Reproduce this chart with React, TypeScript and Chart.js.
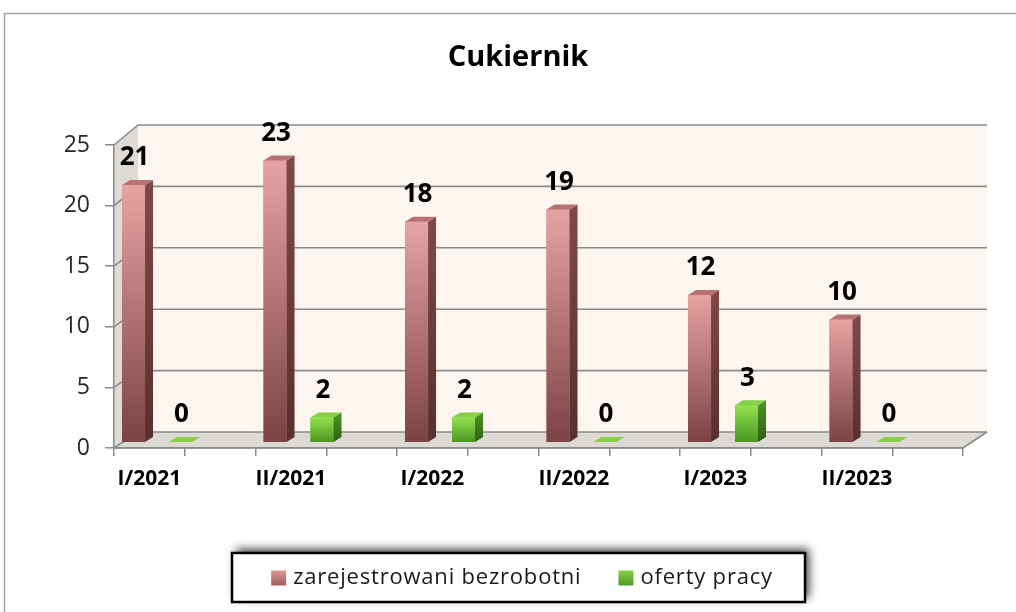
import React, { useEffect, useRef } from 'react';
import { Chart, registerables } from 'chart.js';

Chart.register(...registerables);

// ---- data ----
const chartTitle = 'Cukiernik';
const categories = ['I/2021', 'II/2021', 'I/2022', 'II/2022', 'I/2023', 'II/2023'];
const registeredUnemployed = [21, 23, 18, 19, 12, 10];
const jobOffers = [0, 2, 2, 0, 3, 0];
const seriesLabels = ['zarejestrowani bezrobotni', 'oferty pracy'];
const yMax = 25;
const yStep = 5;

// ---- styles ----
const FONT = "'Open Sans', 'DejaVu Sans', sans-serif";
const WALL_DX = 24;
const BAR_DX = 8;
const BAR_DY = 5;
const GRID = '#8a8a8a';

const palettes = [
  { front: ['#e6a3a1', '#7c4343'], side: ['#7f4848', '#5a2f2f'], top: '#b97272', legend: ['#dc9695', '#a05e5e'], solid: '#c07878' },
  { front: ['#93e150', '#4a9621'], side: ['#4a8d24', '#2e6013'], top: '#86cf48', legend: ['#86d046', '#4f9a25'], solid: '#6cbc34' },
];

function poly(ctx: CanvasRenderingContext2D, pts: number[][]) {
  ctx.beginPath();
  ctx.moveTo(pts[0][0], pts[0][1]);
  for (let i = 1; i < pts.length; i++) ctx.lineTo(pts[i][0], pts[i][1]);
  ctx.closePath();
}

const chart3d = {
  id: 'chart3d',
  beforeDraw(chart: any) {
    const { ctx, chartArea: ca, scales } = chart;
    const y = scales.y;
    const yw = scales.yw;
    ctx.save();
    ctx.fillStyle = '#ffffff';
    ctx.fillRect(0, 0, chart.width, chart.height);
    // outer frame
    ctx.strokeStyle = '#a8a8a8';
    ctx.lineWidth = 1.5;
    ctx.beginPath();
    ctx.moveTo(4.5, chart.height);
    ctx.lineTo(4.5, 13.5);
    ctx.lineTo(chart.width, 13.5);
    ctx.stroke();

    const fL = ca.left, fR = ca.right, bL = fL + WALL_DX, bR = fR + WALL_DX;
    const fTop = y.getPixelForValue(y.max), fBot = y.getPixelForValue(0);
    const bTop = yw.getPixelForValue(y.max), bBot = yw.getPixelForValue(0);

    // back wall
    ctx.fillStyle = '#fdf6f0';
    ctx.fillRect(bL, bTop, bR - bL, bBot - bTop);
    // left wall
    ctx.fillStyle = '#dedad6';
    poly(ctx, [[fL, fBot], [fL, fTop], [bL, bTop], [bL, bBot]]);
    ctx.fill();
    // floor
    ctx.fillStyle = '#dcd8d4';
    poly(ctx, [[fL, fBot], [bL, bBot], [bR, bBot], [fR, fBot]]);
    ctx.fill();

    ctx.strokeStyle = GRID;
    ctx.lineWidth = 1.6;
    y.ticks.forEach((t: any) => {
      const by = yw.getPixelForValue(t.value);
      const fy = y.getPixelForValue(t.value);
      ctx.beginPath();
      ctx.moveTo(fL, fy);
      ctx.lineTo(bL, by);
      ctx.lineTo(bR, by);
      ctx.stroke();
    });
    ctx.beginPath();
    ctx.moveTo(fL, fBot);
    ctx.lineTo(fR, fBot);
    ctx.lineTo(bR, bBot);
    ctx.stroke();
    ctx.restore();
  },
  afterDatasetsDraw(chart: any) {
    const { ctx } = chart;
    ctx.save();
    chart.data.datasets.forEach((ds: any, di: number) => {
      const meta = chart.getDatasetMeta(di);
      const pal = palettes[di];
      meta.data.forEach((el: any, i: number) => {
        const { x, y, base, width } = el.getProps(['x', 'y', 'base', 'width'], true);
        const l = x - width / 2, r = x + width / 2;
        const top = Math.min(y, base), bot = Math.max(y, base);
        if (bot - top > 0.5) {
          const g = ctx.createLinearGradient(0, top, 0, bot);
          g.addColorStop(0, pal.front[0]);
          g.addColorStop(1, pal.front[1]);
          ctx.fillStyle = g;
          ctx.fillRect(l, top, width, bot - top);
          const gs = ctx.createLinearGradient(0, top, 0, bot);
          gs.addColorStop(0, pal.side[0]);
          gs.addColorStop(1, pal.side[1]);
          ctx.fillStyle = gs;
          poly(ctx, [[r, top], [r + BAR_DX, top - BAR_DY], [r + BAR_DX, bot - BAR_DY], [r, bot]]);
          ctx.fill();
        }
        ctx.fillStyle = pal.top;
        poly(ctx, [[l, top], [l + BAR_DX, top - BAR_DY], [r + BAR_DX, top - BAR_DY], [r, top]]);
        ctx.fill();
        // value label
        ctx.fillStyle = '#000';
        ctx.font = `bold 26px ${FONT}`;
        ctx.textAlign = 'center';
        ctx.textBaseline = 'middle';
        ctx.fillText(String(ds.data[i].y), x + 1, top - 27);
      });
    });
    ctx.restore();
  },
  afterDraw(chart: any) {
    const { ctx } = chart;
    const L = 232, T = 553, R = 805, B = 602;
    ctx.save();
    ctx.shadowColor = 'rgba(0,0,0,0.75)';
    ctx.shadowBlur = 9;
    ctx.shadowOffsetX = 4;
    ctx.shadowOffsetY = -4;
    ctx.fillStyle = '#fff';
    ctx.fillRect(L, T, R - L, B - T);
    ctx.restore();
    ctx.save();
    ctx.strokeStyle = '#000';
    ctx.lineWidth = 2.5;
    ctx.strokeRect(L, T, R - L, B - T);

    ctx.font = `22px ${FONT}`;
    (ctx as any).letterSpacing = '0.8px';
    const sq = 15, gap = 7, itemGap = 37;
    const widths = chart.data.datasets.map((d: any) => ctx.measureText(d.label).width);
    const total = widths.reduce((a: number, w: number) => a + sq + gap + w, 0) + itemGap * (widths.length - 1);
    let x = 522 - total / 2;
    const cy = 578;
    chart.data.datasets.forEach((d: any, i: number) => {
      const pal = palettes[i];
      const g = ctx.createLinearGradient(0, cy - sq / 2, 0, cy + sq / 2);
      g.addColorStop(0, pal.legend[0]);
      g.addColorStop(1, pal.legend[1]);
      ctx.fillStyle = g;
      ctx.fillRect(x, cy - sq / 2, sq, sq);
      x += sq + gap;
      ctx.fillStyle = '#1a1a1a';
      ctx.textAlign = 'left';
      ctx.textBaseline = 'middle';
      ctx.fillText(d.label, x, cy);
      x += widths[i] + itemGap;
    });
    ctx.restore();
  },
};

export default function App() {
  const ref = useRef<HTMLCanvasElement | null>(null);

  useEffect(() => {
    document.body.style.margin = '0';
    const canvas = ref.current;
    if (!canvas) return;
    Chart.defaults.font.family = FONT;

    const xSlots = categories.flatMap((c) => [c, '']);
    const toPoints = (arr: number[]) => arr.map((v, i) => ({ x: i, y: v }));

    const chart = new Chart(canvas, {
      type: 'bar',
      data: {
        datasets: [
          {
            label: seriesLabels[0],
            data: toPoints(registeredUnemployed) as any,
            backgroundColor: palettes[0].solid,
            xAxisID: 'xb',
            yAxisID: 'yb',
            categoryPercentage: 0.664,
            barPercentage: 0.49,
            clip: false as any,
          },
          {
            label: seriesLabels[1],
            data: toPoints(jobOffers) as any,
            backgroundColor: palettes[1].solid,
            xAxisID: 'xb',
            yAxisID: 'yb',
            categoryPercentage: 0.664,
            barPercentage: 0.49,
            clip: false as any,
          },
        ],
      },
      options: {
        responsive: false,
        devicePixelRatio: 1,
        animation: false,
        events: [],
        layout: { padding: { left: 20, right: 0, top: 0, bottom: 94 } },
        plugins: {
          legend: { display: false },
          tooltip: { enabled: false },
          title: {
            display: true,
            text: chartTitle,
            color: '#000',
            font: { size: 29, weight: 'bold', family: FONT },
            padding: { top: 40, bottom: 70.2 },
          },
        },
        scales: {
          x: {
            type: 'category',
            labels: xSlots,
            position: 'bottom',
            offset: true,
            grid: { offset: true, drawOnChartArea: false, drawTicks: true, tickLength: 8, color: GRID, lineWidth: 1.5 },
            border: { display: true, color: GRID, width: 1.5 },
            ticks: {
              autoSkip: false,
              maxRotation: 0,
              minRotation: 0,
              padding: 10,
              color: '#000',
              font: { size: 21, weight: 'bold', family: FONT },
            },
            afterFit: (s: any) => { s.height = 70; },
          },
          y: {
            type: 'linear',
            position: 'left',
            min: 0,
            max: yMax,
            ticks: { stepSize: yStep, padding: 15, color: '#262626', font: { size: 23, family: FONT } },
            grid: { drawOnChartArea: false, drawTicks: true, tickLength: 9, color: GRID, lineWidth: 1.5 },
            border: { display: true, color: GRID, width: 1.5 },
            afterFit: (s: any) => { s.width = 94; },
          },
          xb: {
            type: 'linear',
            display: false,
            offset: false,
            min: -0.304,
            max: 5.696,
            ticks: { stepSize: 1, includeBounds: false },
          },
          yb: {
            type: 'linear',
            display: false,
            min: -0.49,
            max: 24.26,
          },
          yw: {
            type: 'linear',
            position: 'right',
            display: true,
            min: -1.303,
            max: 23.37,
            grid: { display: false, drawTicks: false },
            border: { display: false },
            ticks: { display: false },
            afterFit: (s: any) => { s.width = 53; },
          },
        },
      } as any,
      plugins: [chart3d],
    });

    return () => chart.destroy();
  }, []);

  return <canvas ref={ref} width={1016} height={612} style={{ display: 'block' }} />;
}
